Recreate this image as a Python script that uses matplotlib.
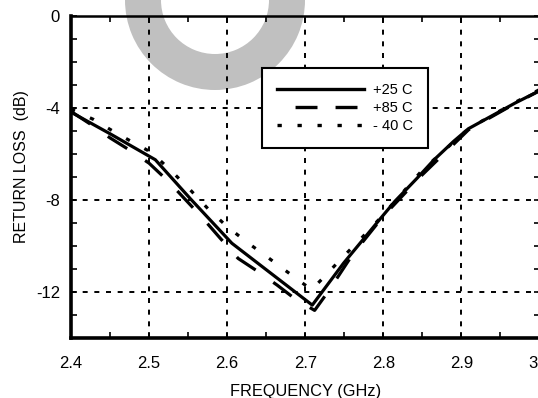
import matplotlib
matplotlib.use("Agg")
import matplotlib.pyplot as plt
from matplotlib.lines import Line2D
from matplotlib.patches import Annulus
from matplotlib.ticker import MultipleLocator, FixedLocator

plt.rcParams['font.family'] = ['Liberation Sans', 'DejaVu Sans']
plt.rcParams['axes.unicode_minus'] = False
plt.rcParams['lines.scale_dashes'] = False

# +25 C (solid)
freq_25 = [2.40, 2.45, 2.508, 2.553, 2.606, 2.65, 2.709, 2.749, 2.794, 2.815,
           2.843, 2.865, 2.890, 2.909, 2.969, 3.00]
rl_25 = [-4.18, -5.12, -6.25, -7.95, -9.88, -11.03, -12.57, -10.75, -8.9, -8.05,
         -7.06, -6.25, -5.45, -4.9, -3.78, -3.25]

# +85 C (dashed)
freq_85 = [2.40, 2.427, 2.45, 2.476, 2.50, 2.525, 2.547, 2.569, 2.59, 2.614,
           2.639, 2.664, 2.687, 2.712, 2.73, 2.76, 2.80, 2.85, 2.909, 2.969, 3.00]
rl_85 = [-4.15, -4.75, -5.3, -5.85, -6.4, -7.2, -8.0, -8.8, -9.62, -10.54,
         -11.1, -11.7, -12.3, -12.8, -11.95, -10.4, -8.7, -6.9, -4.95, -3.8, -3.25]

# -40 C (dotted)
freq_40 = [2.40, 2.429, 2.452, 2.477, 2.503, 2.528, 2.553, 2.576, 2.60, 2.626,
           2.651, 2.676, 2.70, 2.708, 2.724, 2.747, 2.77, 2.794, 2.85, 2.909, 2.969, 3.00]
rl_40 = [-4.05, -4.5, -4.97, -5.45, -5.93, -6.72, -7.57, -8.4, -9.16, -9.85,
         -10.47, -11.1, -11.7, -11.9, -11.35, -10.52, -9.73, -8.86, -6.7, -4.9, -3.75, -3.2]

labels = ['+25 C', '+85 C', '- 40 C']
x_ticks = [2.4, 2.5, 2.6, 2.7, 2.8, 2.9, 3.0]
x_ticklabels = ['2.4', '2.5', '2.6', '2.7', '2.8', '2.9', '3.0']
y_ticks = [-12, -8, -4, 0]

fig = plt.figure(figsize=(5.38, 3.98), dpi=100)
ax = fig.add_axes([71 / 538, 60 / 398, 468.5 / 538, 322 / 398])
ax.set_facecolor('none')

# grey watermark ring behind the plot
ring = Annulus((2.15, 3.98), 0.90, 0.36, color='#c0c0c0', lw=0,
               transform=fig.dpi_scale_trans, zorder=-1)
fig.patches.append(ring)

dash_style = (0, (16.5, 15.5))
dot_style = (0, (3.1, 11.9))

ax.plot(freq_40, rl_40, color='k', lw=2.3, linestyle=dot_style, zorder=3)
ax.plot(freq_85, rl_85, color='k', lw=2.3, linestyle=dash_style, zorder=3)
ax.plot(freq_25, rl_25, color='k', lw=2.3, zorder=4)

ax.set_xlim(2.4, 3.0)
ax.set_ylim(-14, 0)
ax.xaxis.set_major_locator(FixedLocator(x_ticks))
ax.set_xticklabels(x_ticklabels)
ax.xaxis.set_minor_locator(MultipleLocator(0.05))
ax.yaxis.set_major_locator(FixedLocator(y_ticks))
ax.yaxis.set_minor_locator(MultipleLocator(1))

ax.grid(which='major', color='k', lw=1.4, linestyle=(0, (3.6, 4.8)))
ax.set_axisbelow(True)

ax.tick_params(which='both', direction='in', top=True, right=True,
               length=4.5, width=1.2, colors='k')
ax.tick_params(axis='x', which='major', labelsize=12, pad=13)
ax.tick_params(axis='y', which='major', labelsize=12, pad=8)

for side in ['left', 'bottom']:
    ax.spines[side].set_linewidth(2.6)
ax.spines['top'].set_linewidth(1.8)
ax.spines['right'].set_linewidth(2.6)

ax.set_xlabel('FREQUENCY (GHz)', fontsize=11.8)
ax.xaxis.set_label_coords(0.5, -0.143)
ax.set_ylabel('RETURN LOSS  (dB)', fontsize=11.5)
ax.yaxis.set_label_coords(-0.089, 0.533)

handles = [
    Line2D([], [], color='k', lw=2.4),
    Line2D([], [], color='k', lw=2.4, linestyle=(15.8, (15.8, 13.0))),
    Line2D([], [], color='k', lw=2.4, linestyle=(0, (3.1, 11.3))),
]
leg = ax.legend(handles, labels, loc='upper left',
                bbox_to_anchor=(0.408, 0.8376), fontsize=10.5,
                handlelength=6.0, handletextpad=0.6, labelspacing=0.28,
                borderpad=1.0, borderaxespad=0, fancybox=False,
                framealpha=1, edgecolor='k')
leg.get_frame().set_linewidth(1.5)
leg.set_zorder(10)

fig.savefig('out.png', dpi=100)
